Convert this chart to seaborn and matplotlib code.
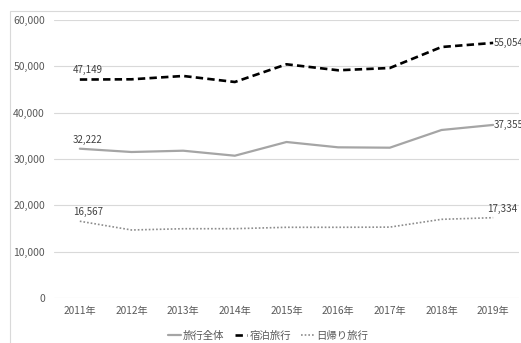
import matplotlib
matplotlib.use("Agg")
import matplotlib.pyplot as plt
from matplotlib.patches import Rectangle
import seaborn as sns
import pandas as pd

years = ["2011年", "2012年", "2013年", "2014年", "2015年", "2016年", "2017年", "2018年", "2019年"]
series_names = ["旅行全体", "宿泊旅行", "日帰り旅行"]
total = [32222, 31510, 31790, 30710, 33670, 32520, 32440, 36260, 37355]
overnight = [47149, 47200, 47920, 46620, 50440, 49150, 49640, 54170, 55054]
daytrip = [16567, 14680, 14950, 14960, 15260, 15260, 15300, 16980, 17334]
y_ticks = [0, 10000, 20000, 30000, 40000, 50000, 60000]

sns.set_theme(style="white")
plt.rcParams["font.family"] = ["Noto Sans CJK JP", "DejaVu Sans"]

rows = []
for name, vals in zip(series_names, [total, overnight, daytrip]):
    for i, (yr, v) in enumerate(zip(years, vals)):
        rows.append({"idx": i, "year": yr, "series": name, "value": v})
df = pd.DataFrame(rows)

W, H = 521, 343
fig = plt.figure(figsize=(W / 100, H / 100), dpi=100)
fig.patch.set_facecolor("white")

# light chart-area frame
fig.patches.append(Rectangle((10 / W, -0.1), 1.2, 1 - 11 / H + 0.1,
                             transform=fig.transFigure, fill=False,
                             edgecolor="#D9D9D9", linewidth=0.8))

ax = fig.add_axes([54 / W, 45 / H, (519 - 54) / W, (298 - 20) / H])

palette = {"旅行全体": "#A5A5A5", "宿泊旅行": "#000000", "日帰り旅行": "#8C8C8C"}
widths = {"旅行全体": 1.6, "宿泊旅行": 1.9, "日帰り旅行": 1.2}
dashes = {"旅行全体": (None, None), "宿泊旅行": (2.8, 1.6), "日帰り旅行": (1, 1.2)}

for name in series_names:
    sub = df[df["series"] == name]
    sns.lineplot(data=sub, x="idx", y="value", ax=ax, color=palette[name],
                 linewidth=widths[name], label=name, legend=False)
    line = ax.lines[-1]
    if dashes[name][0] is not None:
        line.set_dashes(dashes[name])
        line.set_dash_capstyle("butt")

ax.set_xlim(-0.5, len(years) - 0.5)
ax.set_ylim(0, 60000)
ax.set_yticks(y_ticks)
ax.set_yticklabels([f"{v:,}" for v in y_ticks])
ax.set_xticks(range(len(years)))
ax.set_xticklabels(years)
ax.set_xlabel("")
ax.set_ylabel("")
ax.grid(axis="y", color="#D9D9D9", linewidth=0.8)
ax.grid(axis="x", visible=False)
for s in ax.spines.values():
    s.set_visible(False)
ax.tick_params(axis="y", length=0, labelsize=7.5, colors="#595959", pad=6.5)
ax.tick_params(axis="x", length=0, labelsize=7.3, colors="#595959", pad=6)

lab_color = "#404040"
fs = 7
last = len(years) - 1
# first-point labels above the marks
for vals in (total, overnight, daytrip):
    ax.annotate(f"{vals[0]:,}", (0, vals[0]), xytext=(-5, 3), textcoords="offset points",
                ha="left", va="bottom", fontsize=fs, color=lab_color)
# last-point labels
for vals in (total, overnight):
    ax.annotate(f"{vals[last]:,}", (last, vals[last]), xytext=(0.5, 0), textcoords="offset points",
                ha="left", va="center", fontsize=fs, color=lab_color, annotation_clip=False)
ax.annotate(f"{daytrip[last]:,}", (last, daytrip[last]), xytext=(-4.5, 3), textcoords="offset points",
            ha="left", va="bottom", fontsize=fs, color=lab_color, annotation_clip=False)

handles = [ax.lines[i] for i in range(3)]
leg = fig.legend(handles, series_names, loc="center", bbox_to_anchor=(268 / W, 1 - 336 / H),
                 ncol=3, frameon=False, fontsize=7.5, handlelength=1.2, handletextpad=0.2,
                 columnspacing=1.0, borderpad=0)
for t in leg.get_texts():
    t.set_color("#595959")

fig.savefig("out.png", dpi=100, facecolor="white")
